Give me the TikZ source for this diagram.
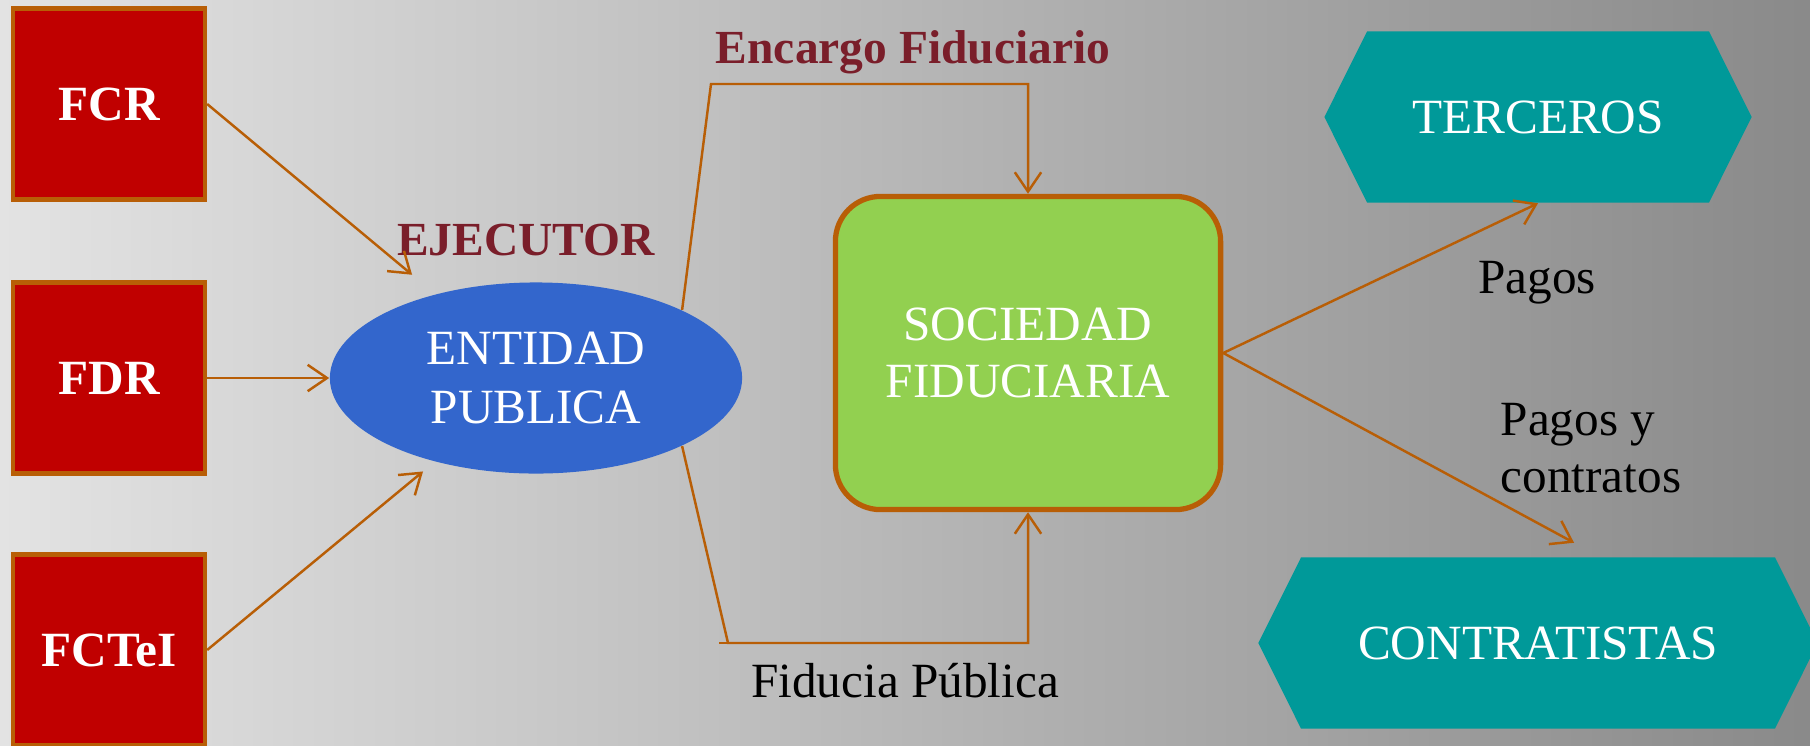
\documentclass[tikz,border=0pt]{standalone}
\usepackage{fontspec}
\setmainfont{Liberation Serif}
\usetikzlibrary{shapes.geometric, shapes.symbols, arrows.meta, positioning}
\definecolor{rojofondo}{RGB}{192,0,0}
\definecolor{bordeocre}{RGB}{184,94,6}
\definecolor{azulent}{RGB}{51,102,204}
\definecolor{verdesoc}{RGB}{146,208,80}
\definecolor{tealter}{RGB}{0,153,153}
\definecolor{vinotit}{RGB}{122,30,42}

\begin{document}
\begin{tikzpicture}[x=0.01cm, y=-0.01cm,
    fondo/.style={rectangle, draw=bordeocre, line width=1.2pt, fill=rojofondo, minimum width=1.92cm, minimum height=1.91cm, text=white, font=\bfseries\fontsize{14}{17}\selectfont},
    flecha/.style={->, >={Straight Barb[length=5.5pt, width=7.5pt]}, draw=bordeocre, line width=0.7pt},
    tercero/.style={signal, signal to=east and west, signal pointer angle=127, fill=tealter, text=white, minimum width=4.27cm, minimum height=1.71cm, font=\fontsize{14}{17}\selectfont},
    rotulo/.style={inner sep=0pt, text=black, font=\fontsize{14}{16.2}\selectfont},
    titulo/.style={inner sep=0pt, text=vinotit, font=\bfseries\fontsize{13.5}{16}\selectfont}]
    \useasboundingbox (0,0) rectangle (1810,745);
    % Fondo
    \shade[left color=gray!22, right color=gray!92] (0,0) rectangle (1810,745);

    % Fondos de origen
    \node[fondo] (fcr) at (109,104) {FCR};
    \node[fondo] (fdr) at (109,378) {FDR};
    \node[fondo] (fctei) at (109,650) {FCTeI};

    % Entidad y sociedad
    \node[ellipse, fill=azulent, minimum width=4.12cm, minimum height=1.91cm, text=white, align=center, font=\fontsize{14}{16.7}\selectfont] (entidad) at (536,378) {ENTIDAD\\PUBLICA};
    \node[rectangle, rounded corners=0.45cm, draw=bordeocre, line width=1.5pt, fill=verdesoc, minimum width=3.85cm, minimum height=3.13cm, text=white, align=center, font=\fontsize{14}{16.4}\selectfont] (sociedad) at (1028,353) {SOCIEDAD\\FIDUCIARIA};

    % Destinos
    \node[tercero] (terceros) at (1538,117) {TERCEROS};
    \node[tercero, minimum width=5.59cm] (contratistas) at (1538,643) {CONTRATISTAS};

    % Rotulos
    \node[titulo, anchor=base] (ejecutor) at (526,255) {EJECUTOR};
    \node[titulo, anchor=base] (encargo) at (913,63) {Encargo Fiduciario};
    \node[rotulo, anchor=base] (fiducia) at (905,697) {Fiducia Pública};
    \node[rotulo, anchor=base] (pagos) at (1537,293) {Pagos};
    \node[rotulo, anchor=west, align=left] (pagoscontr) at (1500,448) {Pagos y\\contratos};

    % Flechas
    \draw[flecha, shorten >=0.3cm] (fcr.east) -- (entidad);
    \draw[flecha] (fdr.east) -- (entidad.west);
    \draw[flecha, shorten >=0.15cm] (fctei.east) -- (entidad);

    \coordinate (encq) at (711,84);
    \coordinate (fidq) at (728,643);
    \draw[flecha] (entidad.25) -- (encq) -| (sociedad.north);
    \draw[flecha] (entidad.-25) -- (fidq) -| (sociedad.south);
    \draw[bordeocre, line width=0.7pt] ([xshift=-0.09cm]fidq) -- (fidq);

    \draw[flecha] (sociedad.east) -- (terceros.south);
    \draw[flecha] (sociedad.east) -- ([xshift=0.36cm, yshift=0.14cm]contratistas.north);
\end{tikzpicture}
\end{document}
